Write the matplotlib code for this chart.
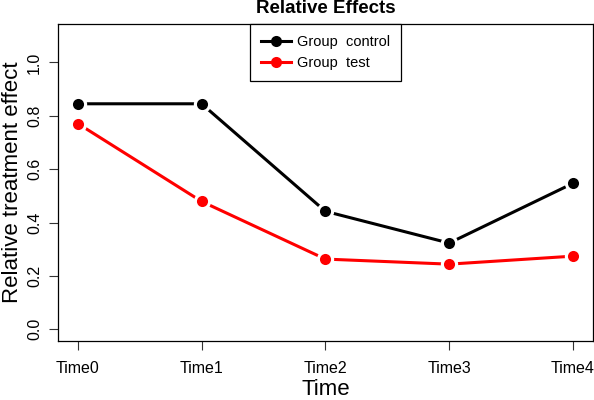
import matplotlib
matplotlib.use("Agg")
import matplotlib.pyplot as plt

times = ["Time0", "Time1", "Time2", "Time3", "Time4"]
control = [0.845, 0.845, 0.442, 0.323, 0.547]
test = [0.771, 0.479, 0.263, 0.244, 0.274]
y_ticks = [0.0, 0.2, 0.4, 0.6, 0.8, 1.0]

plt.rcParams["font.family"] = ["Liberation Sans", "DejaVu Sans"]


def main() -> None:
    fig = plt.figure(figsize=(5.94, 4.0), dpi=100)
    ax = fig.add_axes([0.0976, 0.1475, 0.9004, 0.7925])
    x = list(range(len(times)))

    for values, color, label in [(control, "black", "Group  control"), (test, "red", "Group  test")]:
        ax.plot(x, values, color=color, lw=2.2, zorder=2)
        # white halo gives the R type="b" gap between points and lines
        ax.plot(x, values, "o", color="white", markersize=12.5, markeredgewidth=0, zorder=3)
        ax.plot(x, values, "o", color=color, markersize=8, markeredgewidth=0, zorder=4)
        ax.plot([], [], "-o", color=color, lw=2.2, markersize=8, markeredgewidth=0, label=label)

    ax.set_xlim(-0.16, 4.16)
    ax.set_ylim(-0.044, 1.144)
    ax.set_xticks(x)
    ax.set_xticklabels(times, fontsize=11.5)
    ax.set_yticks(y_ticks)
    ax.set_yticklabels([f"{v:.1f}" for v in y_ticks], fontsize=11.5, rotation=90, va="center")
    ax.tick_params(axis="x", length=6.5, width=0.8, color="#333333", pad=8)
    ax.tick_params(axis="y", length=6.5, width=0.8, color="#333333", pad=5)
    for s in ax.spines.values():
        s.set_linewidth(0.9)
    ax.set_xlabel("Time", fontsize=16, labelpad=2)
    ax.set_ylabel("Relative treatment effect", fontsize=16, labelpad=3)
    ax.set_title("Relative Effects", fontsize=13.5, fontweight="bold", pad=8)

    leg = ax.legend(loc="upper center", bbox_to_anchor=(0.5, 1.0), fontsize=10.5, fancybox=False,
                    framealpha=1, edgecolor="black", handlelength=2.1, handletextpad=0.4,
                    borderpad=0.75, labelspacing=0.5, borderaxespad=0)
    leg.get_frame().set_linewidth(0.9)

    fig.savefig("out.png", dpi=100)


if __name__ == "__main__":
    main()
